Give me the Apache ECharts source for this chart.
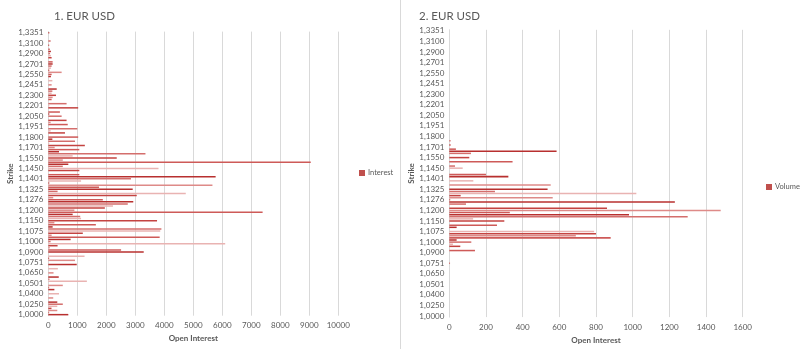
<!DOCTYPE html>
<html>
<head>
<meta charset="utf-8">
<script src="https://cdn.jsdelivr.net/npm/echarts@6/dist/echarts.min.js"></script>
<style>
  html, body { margin: 0; padding: 0; background: #ffffff; }
  #chart { width: 800px; height: 349px; }
</style>
</head>
<body>
<div id="chart"></div>
<script>
// Strike prices, bottom to top (every fifth one is labelled on the axis)
const strikes = [
  '1,0000','1,0050','1,0100','1,0150','1,0200',
  '1,0250','1,0275','1,0300','1,0325','1,0350',
  '1,0400','1,0420','1,0440','1,0450','1,0475',
  '1,0501','1,0525','1,0550','1,0575','1,0600',
  '1,0650','1,0670','1,0690','1,0700','1,0725',
  '1,0751','1,0775','1,0800','1,0825','1,0850',
  '1,0900','1,0925','1,0950','1,0960','1,0975',
  '1,1000','1,1025','1,1040','1,1050','1,1060',
  '1,1075','1,1090','1,1100','1,1120','1,1125',
  '1,1150','1,1160','1,1170','1,1175','1,1190',
  '1,1200','1,1220','1,1225','1,1250','1,1260',
  '1,1276','1,1290','1,1300','1,1301','1,1310',
  '1,1325','1,1340','1,1350','1,1375','1,1400',
  '1,1401','1,1410','1,1420','1,1425','1,1440',
  '1,1450','1,1475','1,1500','1,1501','1,1525',
  '1,1550','1,1575','1,1600','1,1650','1,1700',
  '1,1701','1,1725','1,1750','1,1751','1,1775',
  '1,1800','1,1825','1,1850','1,1900','1,1950',
  '1,1951','1,1975','1,2000','1,2001','1,2025',
  '1,2050','1,2075','1,2100','1,2150','1,2200',
  '1,2201','1,2225','1,2250','1,2251','1,2275',
  '1,2300','1,2325','1,2350','1,2400','1,2450',
  '1,2451','1,2475','1,2500','1,2501','1,2525',
  '1,2550','1,2575','1,2600','1,2650','1,2700',
  '1,2701','1,2750','1,2751','1,2800','1,2850',
  '1,2900','1,2950','1,3000','1,3001','1,3050',
  '1,3100','1,3150','1,3200','1,3250','1,3300',
  '1,3351'
];

// Open interest per strike (same order as strikes)
const interest = [
  690, 30, 310, 110, 310,   500, 310, 0, 170, 0,
  370, 0, 210, 30, 500,     0, 1330, 40, 360, 0,
  180, 0, 330, 0, 980,      0, 920, 30, 1250, 0,
  3290, 2510, 50, 320, 6100, 80, 770, 3840, 115, 1190,
  3860, 3900, 150, 1640, 210, 3750, 1130, 1100, 840, 7390,
  900, 1950, 2230, 2740, 2930, 1880, 170, 3050, 4740, 320,
  2910, 1750, 5660, 35, 1130, 2850, 5770, 1070, 0, 1070,
  3800, 500, 690, 9050, 500, 2360, 840, 3350, 370, 1070,
  220, 1260, 35, 920, 140,  1030, 0, 575, 80, 1000,
  0, 670, 80, 630, 0,       460, 35, 400, 0, 1030,
  35, 630, 0, 115, 150,     265, 115, 140, 290, 0,
  115, 0, 140, 0, 90,       115, 460, 35, 90, 115,
  150, 150, 0, 115, 90,     60, 90, 50, 0, 30,
  0, 80, 0, 0, 0,           35
];

// Traded volume per strike (same order as strikes)
const volume = [
  0, 0, 0, 0, 0,        0, 0, 0, 0, 0,
  0, 0, 0, 0, 0,        0, 0, 0, 0, 0,
  0, 0, 0, 0, 0,        4, 0, 0, 0, 0,
  0, 140, 0, 60, 20,    120, 40, 880, 690, 800,
  790, 0, 40, 260, 0,   300, 130, 1300, 980, 330,
  1480, 860, 0, 91, 1230, 5, 564, 62, 1020, 249,
  536, 0, 553, 0, 131,  0, 322, 200, 0, 0,
  73, 31, 0, 345, 0,    109, 0, 118, 585, 36,
  0, 7, 0, 7, 0,        0, 0, 0, 0, 0,
  0, 0, 0, 0, 0,        0, 0, 0, 0, 0,
  0, 0, 0, 0, 0,        0, 0, 0, 0, 0,
  0, 0, 0, 0, 0,        0, 0, 0, 0, 0,
  0, 0, 0, 0, 0,        0, 0, 0, 0, 0,
  0, 0, 0, 0, 0,        0
];

const seriesNames = ['Interest', 'Volume'];
const panelTitles = ['1. EUR USD', '2. EUR USD'];

// Monochrome red shades, varied point by point
const shades = ['#B8302F', '#CE5A58', '#DE8A88', '#C44341', '#E9B3B2', '#D46E6C'];
const baseRed = '#C0504D';
const textGrey = '#595959';
const gridGrey = '#D9D9D9';
const font = 'Lato, "Liberation Sans", sans-serif';

function shadedData(values) {
  return values.map((v, i) => ({ value: v, itemStyle: { color: shades[i % shades.length] } }));
}

function valueAxis(gridIndex, max, interval) {
  return {
    type: 'value', gridIndex, min: 0, max, interval,
    axisLine: { show: false }, axisTick: { show: false },
    splitLine: { lineStyle: { color: gridGrey, width: 1 } },
    axisLabel: { color: textGrey, fontSize: 8, fontFamily: font, margin: 6, formatter: v => String(v) },
    name: 'Open Interest', nameLocation: 'middle', nameGap: 18,
    nameTextStyle: { color: textGrey, fontSize: 8, fontWeight: 'bold', fontFamily: font }
  };
}

function categoryAxis(gridIndex, nameGap) {
  return {
    type: 'category', gridIndex, data: strikes,
    axisLine: { show: true, lineStyle: { color: gridGrey } },
    axisTick: { show: false },
    axisLabel: { interval: 4, color: textGrey, fontSize: 8, fontFamily: font, margin: 5 },
    name: 'Strike', nameLocation: 'middle', nameRotate: 90, nameGap,
    nameTextStyle: { color: textGrey, fontSize: 8, fontWeight: 'bold', fontFamily: font }
  };
}

const chart = echarts.init(document.getElementById('chart'), null, { renderer: 'canvas' });

chart.setOption({
  backgroundColor: '#ffffff',
  animation: false,
  title: [
    { text: panelTitles[0], left: 49, top: 5, textStyle: { color: textGrey, fontSize: 11.5, fontWeight: 'normal', fontFamily: font } },
    { text: panelTitles[1], left: 414, top: 5, textStyle: { color: textGrey, fontSize: 11.5, fontWeight: 'normal', fontFamily: font } }
  ],
  legend: [
    { data: [seriesNames[0]], left: 354, top: 164, icon: 'rect', itemWidth: 6, itemHeight: 6, itemGap: 3,
      textStyle: { color: textGrey, fontSize: 7.5, fontFamily: font, padding: [0, 0, 0, -2] } },
    { data: [seriesNames[1]], left: 761, top: 178, icon: 'rect', itemWidth: 6, itemHeight: 6, itemGap: 3,
      textStyle: { color: textGrey, fontSize: 7.5, fontFamily: font, padding: [0, 0, 0, -2] } }
  ],
  grid: [
    { left: 48.3, top: 31.6, width: 290, height: 284.1, containLabel: false, outerBoundsMode: 'none' },
    { left: 449.3, top: 29.8, width: 293.4, height: 287.3, containLabel: false, outerBoundsMode: 'none' }
  ],
  xAxis: [valueAxis(0, 10000, 1000), valueAxis(1, 1600, 200)],
  yAxis: [categoryAxis(0, 32), categoryAxis(1, 33)],
  series: [
    { name: seriesNames[0], type: 'bar', xAxisIndex: 0, yAxisIndex: 0, color: baseRed,
      barCategoryGap: '28%', data: shadedData(interest) },
    { name: seriesNames[1], type: 'bar', xAxisIndex: 1, yAxisIndex: 1, color: baseRed,
      barCategoryGap: '28%', data: shadedData(volume) }
  ],
  graphic: [
    { type: 'line', shape: { x1: 400.5, y1: 0, x2: 400.5, y2: 349 }, style: { stroke: gridGrey, lineWidth: 1 } }
  ]
});
</script>
</body>
</html>
